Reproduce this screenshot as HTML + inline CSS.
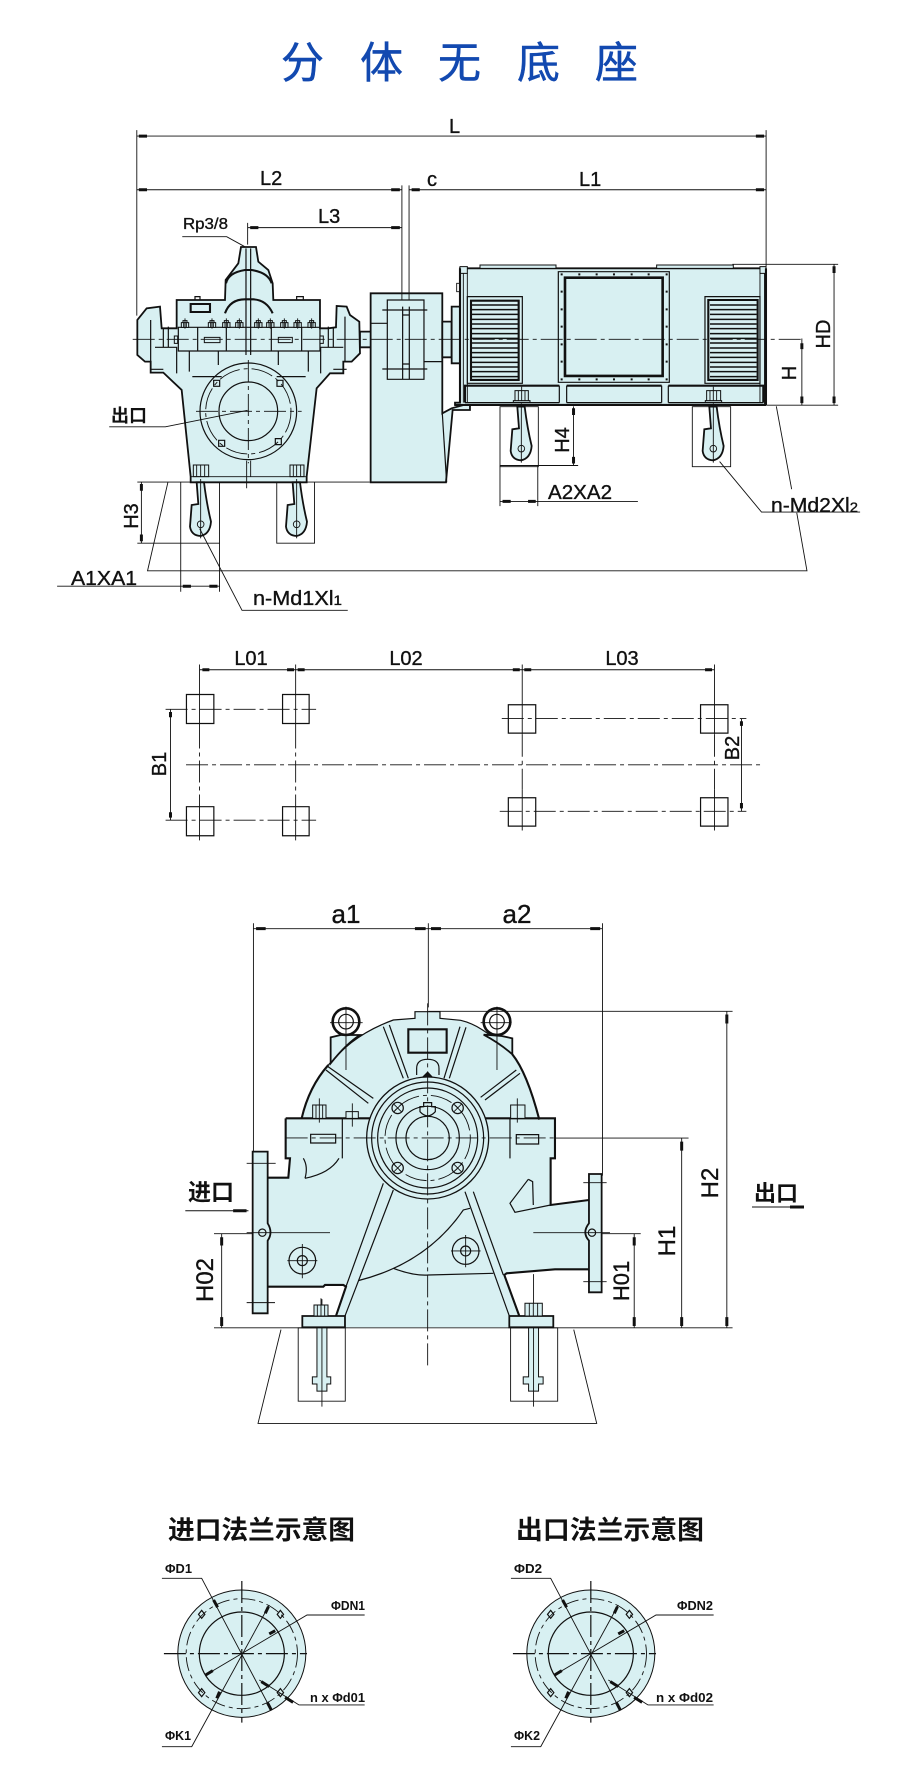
<!DOCTYPE html>
<html><head><meta charset="utf-8"><style>
html,body{margin:0;padding:0;background:#fff}
svg{display:block}
svg *{vector-effect:non-scaling-stroke}
.t{fill:none;stroke:#111;stroke-width:.9}
.m{fill:none;stroke:#111;stroke-width:1.2}
.b{fill:none;stroke:#111;stroke-width:2.1}
.x{fill:none;stroke:#111;stroke-width:2.6}
.f{fill:#d8f0f2;stroke:none}
.fb{fill:#d8f0f2;stroke:#111;stroke-width:1.8}
.fm{fill:#d8f0f2;stroke:#111;stroke-width:1}
.c{fill:none;stroke:#111;stroke-width:.9;stroke-dasharray:22 4 4 4}
.a{fill:none;stroke:#111;stroke-width:3}
text{font-family:"Liberation Sans","Noto Sans CJK SC",sans-serif;fill:#111;stroke:#111;stroke-width:.35}
.l{font-size:20px}
.cjk{font-family:"Noto Sans CJK SC","Liberation Sans",sans-serif;font-weight:700;stroke-width:0}
.s{font-size:13px;font-weight:700;stroke-width:0}
.ti{fill:#1249b0;stroke:#1249b0;stroke-width:.5;font-family:"Noto Sans CJK SC",sans-serif;font-size:43px}
</style></head><body>
<svg xmlns="http://www.w3.org/2000/svg" width="921" height="1788" viewBox="0 0 921 1788">
<defs>
<g id="hook"><path class="fb" d="M-12,0L-7,65L-27,68L-32,133Q-28,160 0,161Q28,155 31,118Q18,65 10,0Z"/><circle class="t" cx="0" cy="126" r="10"/><path class="t" d="M0,-10V168"/></g>
<g id="nut"><path class="fm" d="M-11,0V-14H11V0ZM-6,-14V-20H6V-14Z"/><path class="t" d="M0,-27V4M-4,-14V0M4,-14V0"/></g>
</defs>
<rect width="921" height="1788" fill="#fff"/>
<text class="ti" x="281" y="78">分</text>
<text class="ti" x="360" y="78">体</text>
<text class="ti" x="438" y="78">无</text>
<text class="ti" x="517" y="78">底</text>
<text class="ti" x="595" y="78">座</text>

<!-- pump -->
<g transform="translate(130,250) scale(.3333)">
<path class="fb" d="M333,-9L378,-9L385,35L415,60L428,100L430,150L570,150L570,235L595,235L618,232L620,168L650,170L660,195L688,215L690,310L665,335L640,335L640,370L600,370L560,415L530,680L530,697L182,697L182,680L155,420L100,368L62,368L62,335L45,335L22,315L22,210L50,175L90,170L95,235L140,235L140,150L285,150L287,90L325,40Z"/>
<path class="m" d="M62,210V335M645,200V335M100,235V292M610,235V292M115,230V292M595,230V292"/>
<path class="m" d="M145,232H570V303H145Z M203,232V303M289,232V303M424,232V303M515,232V303"/>
<path class="fm" d="M223,262H270V278H223ZM445,262H487V278H445ZM133,258H143V280H133ZM570,258H580V280H570Z"/>
<rect class="b" x="182" y="162" width="58" height="24"/>
<path class="m" d="M75,292H140V370M640,292H572V370M178,303V365M265,303V345M445,303V345M535,303V365M187,380H275M440,380H527M60,358H100M610,358H650"/>
<path class="b" d="M288,100Q295,68 345,60H365Q415,68 425,100M285,190Q300,148 345,148H370Q410,150 428,190"/>
<path class="m" d="M348,-5V315M362,-5V315"/>
<use href="#nut" x="165" y="232"/><use href="#nut" x="246" y="232"/><use href="#nut" x="289" y="232"/><use href="#nut" x="328" y="232"/><use href="#nut" x="385" y="232"/><use href="#nut" x="421" y="232"/><use href="#nut" x="463" y="232"/><use href="#nut" x="503" y="232"/><use href="#nut" x="545" y="232"/>
<path class="m" d="M195,150V140H210V150M500,150V140H520V150"/>
<circle class="m" cx="355" cy="484" r="145"/><circle class="c" cx="355" cy="484" r="128"/><circle class="m" cx="355" cy="484" r="88"/>
<path class="c" d="M198,484H515M355,330V640"/>
<path class="t" d="M350,632V715M362,632V680"/>
<rect class="m" x="251" y="391" width="18" height="18"/><rect class="m" x="441" y="391" width="18" height="18"/><rect class="m" x="266" y="571" width="18" height="18"/><rect class="m" x="436" y="566" width="18" height="18"/>
<path class="fm" d="M190,645H236V680H190ZM480,645H522V680H480Z"/><path class="t" d="M200,645V680M212,645V680M224,645V680M490,645V680M500,645V680M512,645V680M183,680H528"/>
<use href="#hook" x="212" y="697"/><use href="#hook" x="500" y="697"/>
<!-- shaft & coupling -->
<rect class="fb" x="690" y="245" width="34" height="47"/>
<path class="fb" d="M722,130H937V490L965,475L1020,460V480L985,480L968,480L948,697H722Z"/>
<path class="m" d="M937,490L950,697"/>
<rect class="m" x="772" y="150" width="110" height="238"/>
<path class="m" d="M757,180H892M757,357H892M722,220H772M882,335H937M818,170V388M838,170V388M818,195H838M818,342H838"/>
<rect class="fb" x="937" y="215" width="28" height="107"/>
</g>

<!-- motor -->
<g transform="translate(450,250) scale(.3333)">
<rect class="fb" x="5" y="170" width="25" height="170"/>
<path class="fb" d="M30,55H945V465H15V458H30Z"/>
<path class="fm" d="M90,45H318V55H90ZM620,45H850V55H620ZM30,50H52V70H30ZM930,50H948V70H930Z"/>
<path class="t" d="M40,70V458M52,70V458M930,70V458M20,100H30V125H20ZM15,340H30"/>
<path class="b" d="M30,55V458M948,55V465M15,465H948"/>
<rect class="m" x="325" y="65" width="333" height="332"/>
<rect class="x" x="345" y="83" width="293" height="295"/>
<path fill="#111" d="M332,70h6v6h-6zM385,70h6v6h-6zM437,70h6v6h-6zM489,70h6v6h-6zM542,70h6v6h-6zM593,70h6v6h-6zM647,70h6v6h-6zM332,385h6v6h-6zM385,385h6v6h-6zM437,385h6v6h-6zM489,385h6v6h-6zM542,385h6v6h-6zM593,385h6v6h-6zM647,385h6v6h-6zM332,122h6v6h-6zM332,175h6v6h-6zM332,227h6v6h-6zM332,280h6v6h-6zM332,332h6v6h-6zM647,122h6v6h-6zM647,175h6v6h-6zM647,227h6v6h-6zM647,280h6v6h-6zM647,332h6v6h-6z"/>
<rect class="m" x="52" y="140" width="165" height="260"/>
<rect class="b" x="63" y="152" width="143" height="238"/>
<rect class="m" x="765" y="140" width="165" height="260"/>
<rect class="b" x="775" y="150" width="148" height="240"/>
<path class="m" style="stroke-width:1.5" d="M66,165H204M66,179H204M66,193H204M66,208H204M66,222H204M66,236H204M66,251H204M66,265H204M66,279H204M66,294H204M66,308H204M66,322H204M66,337H204M66,351H204M66,365H204M66,380H204M780,165H920M780,179H920M780,193H920M780,208H920M780,222H920M780,236H920M780,251H920M780,265H920M780,279H920M780,294H920M780,308H920M780,322H920M780,337H920M780,351H920M780,365H920M780,380H920"/>
<path class="b" d="M45,458V407H328M350,407H635M655,407H940V458"/>
<path class="m" d="M328,407V458M350,407V458M635,407V458M655,407V458M45,458H328M350,458H635M655,458H940"/>
<path class="fm" d="M195,422H235V452H195ZM190,452H240V457H190ZM770,422H812V452H770ZM766,452H815V457H766Z"/>
<path class="t" d="M205,422V452M215,410V452M225,422V452M780,422V452M790,410V452M800,422V452"/>
<rect class="t" x="150" y="470" width="115" height="180"/><rect class="t" x="727" y="470" width="115" height="180"/>
<use href="#hook" x="214" y="470"/><use href="#hook" x="790" y="470"/>
</g>

<!-- dims top -->
<g transform="translate(99,0) scale(.5108,.3945)">
<path class="t" d="M74,330V800M1306,330V690M74,345H1306M74,481H593M607,481H1306M593,470V760M607,470V760M291,565V620M291,577H593M163,600H250L285,625"/>
<path class="a" d="M78,345H94M1286,345H1302M78,481H94M572,481H589M612,481H628M1286,481H1302M296,577H312M572,577H589"/>
<path class="c" d="M66,860H1378"/>
<path class="t" d="M1376,858V1027M1439,670V1027M1240,670H1447M1306,1027H1447"/>
<path class="a" d="M1376,870V885M1376,1005V1022M1439,675V692M1439,1005V1022M929,1035V1052M929,1158V1175"/>
<path class="t" d="M929,1030V1180M785,1180H938M785,1180V1283M859,1180V1283M785,1271H1055"/>
<path class="a" d="M790,1271H806M840,1271H855"/>
<path class="t" d="M1326,1030L1356,1240M1366,1300L1386,1447H95L135,1222M1215,1170L1297,1298H1490"/>
<path class="t" d="M75,1222H190M305,1222H530M83,1222V1377M75,1377H236M160,1222V1500M236,1222V1500M348,1222V1377H422V1222M-82,1486H236M197,1340L280,1547H487"/>
<path class="a" d="M83,1227V1244M83,1355V1372M164,1486H180M216,1486H232"/>
<path class="t" d="M20,1082H130L291,1040"/>
</g>
<text class="l" x="449" y="133">L</text>
<text class="l" x="260" y="185">L2</text>
<text class="l" x="427" y="186">c</text>
<text class="l" x="579" y="186">L1</text>
<text class="l" x="318" y="223">L3</text>
<text x="183" y="229" font-size="16" textLength="45" lengthAdjust="spacingAndGlyphs">Rp3/8</text>
<text class="l" text-anchor="middle" transform="translate(796,373) rotate(-90)">H</text>
<text class="l" text-anchor="middle" transform="translate(830,334) rotate(-90)">HD</text>
<text class="l" text-anchor="middle" transform="translate(569,440) rotate(-90)">H4</text>
<text class="l" text-anchor="middle" transform="translate(138,516) rotate(-90)">H3</text>
<text x="548" y="499" font-size="20" textLength="64" lengthAdjust="spacingAndGlyphs">A2XA2</text>
<text x="771" y="512" font-size="20" textLength="87" lengthAdjust="spacingAndGlyphs">n-Md2Xl<tspan font-size="14">2</tspan></text>
<text x="253" y="605" font-size="20" textLength="89" lengthAdjust="spacingAndGlyphs">n-Md1Xl<tspan font-size="14">1</tspan></text>
<text x="71" y="585" font-size="20" textLength="66" lengthAdjust="spacingAndGlyphs">A1XA1</text>
<text class="cjk" x="111" y="422" font-size="18">出口</text>

<!-- plan -->
<g transform="translate(139,640.7) scale(.409,.33)">
<path class="m" d="M116,163h67v88h-67zM351,163h65v88h-65zM116,503h67v88h-67zM351,503h65v88h-65zM903,194h67v86h-67zM1373,194h67v86h-67zM903,476h67v86h-67zM1373,476h67v86h-67z"/>
<path class="t" d="M148,72V260M383,72V260M937,72V285M1407,72V285M148,475V605M383,475V605M937,450V575M1407,450V575M148,88H1407M77,208V544M1473,236V517"/>
<path class="c" d="M65,208H433M65,544H433M887,236H1485M882,517H1485M115,376H1520M148,260V475M383,260V475M937,285V450M1407,285V450"/>
<path class="a" d="M155,88H172M362,88H379M388,88H405M914,88H931M942,88H959M1384,88H1401M77,216V232M77,520V536M1473,244V258M1473,492V508"/>
</g>
<text class="l" x="251" y="665" text-anchor="middle">L01</text>
<text class="l" x="406" y="665" text-anchor="middle">L02</text>
<text class="l" x="622" y="665" text-anchor="middle">L03</text>
<text class="l" text-anchor="middle" transform="translate(166,764) rotate(-90)">B1</text>
<text class="l" text-anchor="middle" transform="translate(739,748) rotate(-90)">B2</text>

<!-- side view dims -->
<g transform="translate(170,900) scale(.3827,.358)">
<path class="t" d="M218,65V705M1130,65V770M218,80H1130M675,65V300M675,311H1470M1455,311V1195M1337,665V1195M1005,665H1355M1213,932V1195M950,932H1230M135,932V1195M115,932H417M115,1195H1470M40,868H205"/>
<path class="a" d="M225,80H250M640,80H668M682,80H708M1098,80H1124M1455,320V345M1455,1165V1190M1337,675V700M1337,1165V1190M1213,942V965M1213,1165V1190M135,942V965M135,1165V1190M165,868H200"/>
<rect class="t" x="335" y="1195" width="123" height="205"/><rect class="t" x="890" y="1195" width="123" height="205"/>
<path class="fm" d="M384,1195H410V1332H420V1352H410V1372H384V1352H372V1332H384ZM937,1195H963V1332H975V1352H963V1372H937V1352H923V1332H937Z"/>
<path class="t" d="M397,1115V1415M950,1045V1415M290,1200L230,1462H1115L1055,1200"/>
</g>
<!-- side view body -->
<g transform="translate(240,1010) scale(.3333)">
<path class="f" d="M137,325L185,325C200,260 225,210 265,165C300,125 350,70 460,30L525,25L525,5L600,5L600,25L662,31C700,40 740,60 817,133C855,180 880,260 898,329L945,325L945,445L932,445L932,585L1047,570L1047,778L945,778L800,790L793,795L838,918L940,918L940,952L187,952L187,918L288,918L318,830L310,825L255,825L250,830L83,830L83,503L145,503L150,445L137,445Z"/>
<path class="b" d="M185,325C200,260 225,210 265,165"/>
<path class="m" d="M265,165C300,125 350,70 460,30L525,25L525,5L600,5L600,25L662,31C700,40 740,60 817,133"/>
<path class="b" d="M817,133C855,180 880,260 898,329"/>
<path class="b" d="M137,325H945V445H932V585L1047,570M137,325V445H150L145,503H83M1047,778H945L800,790L793,795L838,918M83,830H250L255,825H310L318,830L288,918"/>
<path class="fb" d="M272,160V82L302,75L360,75Q320,100 272,160ZM817,133V85L785,78L731,74Q780,100 817,133Z"/>
<circle class="x" cx="318" cy="35" r="40"/><circle class="m" cx="318" cy="35" r="22"/><circle class="x" cx="771" cy="35" r="40"/><circle class="m" cx="771" cy="35" r="22"/>
<path class="t" d="M318,-10V180M270,38H368M771,-10V180M722,38H815"/>
<path class="m" d="M258,180L385,280M264,170L400,265M430,50L490,205M448,45L505,205M660,50L612,205M678,52L628,205M829,180L722,262M840,190L735,270"/>
<rect class="b" x="505" y="58" width="115" height="70"/>
<path class="m" d="M530,195V175Q530,148 563,148Q597,148 597,175V195"/>
<path fill="#111" d="M545,202L563,184L580,202Z"/>
<!-- legs -->
<path class="m" d="M318,830L430,520M315,918L460,540M675,545L808,918M700,545L790,795"/>
<path class="m" d="M355,812Q560,760 670,600L690,595M460,775Q520,798 565,795L760,790"/>
<path class="m" d="M190,445Q205,470 195,505M297,445Q270,490 195,505"/>
<path class="m" d="M865,508L810,580L825,607L932,585M865,508L878,515L880,585"/>
<path class="m" d="M307,325V445M810,325V445"/>
<rect class="m" x="212" y="373" width="75" height="26"/><rect class="m" x="829" y="374" width="67" height="28"/>
<path class="fm" d="M218,285H258V325H218ZM318,305H355V325H318ZM812,285H855V325H812Z"/>
<path class="t" d="M238,265V338M337,280V350M832,265V338M228,285V325M248,285V325"/>
<circle class="fm" cx="563" cy="384" r="183" style="stroke-width:1.3"/><circle class="m" cx="563" cy="384" r="168"/><circle class="m" cx="563" cy="384" r="150"/><circle class="c" cx="563" cy="384" r="128"/><circle class="m" cx="563" cy="384" r="95"/><circle class="m" cx="563" cy="384" r="65"/>
<path class="c" d="M137,384H945"/>
<path class="c" d="M563,-20V1071"/>
<circle class="m" cx="473" cy="294" r="17"/><circle class="m" cx="653" cy="294" r="17"/><circle class="m" cx="473" cy="474" r="17"/><circle class="m" cx="653" cy="474" r="17"/>
<path class="t" d="M462,283L484,305M484,283L462,305M642,283L664,305M664,283L642,305M462,463L484,485M484,463L462,485M642,463L664,485M664,463L642,485"/>
<path class="m" d="M540,305Q563,330 586,305V290H575V278H551V290H540Z"/>
<!-- flanges -->
<path class="fb" d="M38,425H83V640Q100,668 83,692V910H38Z"/>
<path class="fb" d="M1047,492H1085V847H1047V692Q1025,668 1047,640Z"/>
<circle class="m" cx="67" cy="668" r="11"/><circle class="m" cx="1056" cy="668" r="11"/>
<path class="t" d="M20,668H270M880,668H1110M20,460H107M20,878H105M1030,518H1100M1030,815H1100"/>
<circle class="m" cx="187" cy="752" r="40"/><circle class="m" cx="187" cy="752" r="15"/><circle class="m" cx="677" cy="723" r="40"/><circle class="m" cx="677" cy="723" r="15"/>
<path class="t" d="M142,752H232M187,702V805M633,723H722M677,675V772"/>
<path class="fb" d="M187,918H315V952H187ZM808,918H940V952H808Z"/>
<path class="fm" d="M222,885H264V918H222ZM855,880H907V918H855Z"/>
<path class="t" d="M243,865V918M232,885V918M254,885V918M868,880V918M880,880V918M893,880V918"/>
</g>
<text font-size="26" x="346" y="923" text-anchor="middle">a1</text>
<text font-size="26" x="517" y="923" text-anchor="middle">a2</text>
<text font-size="24" text-anchor="middle" transform="translate(718,1183) rotate(-90)">H2</text>
<text font-size="24" text-anchor="middle" transform="translate(675,1241) rotate(-90)">H1</text>
<text font-size="22" text-anchor="middle" transform="translate(629,1281) rotate(-90)">H01</text>
<text font-size="24" text-anchor="middle" transform="translate(213,1280) rotate(-90)">H02</text>
<text class="cjk" x="188" y="1200" font-size="23">进口</text>
<text class="cjk" x="754" y="1201" font-size="22">出口</text>
<path class="t" d="M752,1207H803"/><path class="a" d="M790,1207H804"/>

<!-- flanges -->
<text class="cjk" x="168" y="1539" font-size="26" textLength="187" lengthAdjust="spacingAndGlyphs">进口法兰示意图</text>
<text class="cjk" x="516" y="1539" font-size="26" textLength="188" lengthAdjust="spacingAndGlyphs">出口法兰示意图</text>
<g transform="translate(150,1510) scale(.3975,.3333)">
<ellipse class="fm" cx="231" cy="431" rx="161" ry="191"/>
<ellipse class="c" cx="231" cy="431" rx="140" ry="165" style="stroke-dasharray:14 4 4 4"/>
<ellipse class="m" cx="231" cy="431" rx="107" ry="125"/>
<path class="c" d="M35,431H395M231,213V638" style="stroke-width:1.2"/>
<path class="m" d="M122,313l8,-12l8,12l-8,12zM320,313l8,-12l8,12l-8,12zM122,548l8,-12l8,12l-8,12zM320,548l8,-12l8,12l-8,12z"/>
<path class="t" d="M30,205H130L305,600M30,710H105L300,285M140,495L395,315H540M375,585H540M375,585L275,510"/>
<path class="a" d="M160,270L170,292M305,600L295,577M140,495L158,482M300,372L315,362M175,545L168,565M298,290L290,310M280,515L300,530M340,562L360,577"/>
</g>
<g transform="translate(499,1510) scale(.3975,.3333)">
<ellipse class="fm" cx="231" cy="431" rx="161" ry="191"/>
<ellipse class="c" cx="231" cy="431" rx="140" ry="165" style="stroke-dasharray:14 4 4 4"/>
<ellipse class="m" cx="231" cy="431" rx="107" ry="125"/>
<path class="c" d="M35,431H395M231,213V638" style="stroke-width:1.2"/>
<path class="m" d="M122,313l8,-12l8,12l-8,12zM320,313l8,-12l8,12l-8,12zM122,548l8,-12l8,12l-8,12zM320,548l8,-12l8,12l-8,12z"/>
<path class="t" d="M30,205H130L305,600M30,710H105L300,285M140,495L395,315H540M375,585H540M375,585L275,510"/>
<path class="a" d="M160,270L170,292M305,600L295,577M140,495L158,482M300,372L315,362M175,545L168,565M298,290L290,310M280,515L300,530M340,562L360,577"/>
</g>
<text class="s" x="165" y="1573" textLength="27" lengthAdjust="spacingAndGlyphs">ΦD1</text>
<text class="s" x="331" y="1610" textLength="34" lengthAdjust="spacingAndGlyphs">ΦDN1</text>
<text class="s" x="310" y="1702" textLength="55" lengthAdjust="spacingAndGlyphs">n x Φd01</text>
<text class="s" x="165" y="1740" textLength="26" lengthAdjust="spacingAndGlyphs">ΦK1</text>
<text class="s" x="514" y="1573" textLength="28" lengthAdjust="spacingAndGlyphs">ΦD2</text>
<text class="s" x="677" y="1610" textLength="36" lengthAdjust="spacingAndGlyphs">ΦDN2</text>
<text class="s" x="656" y="1702" textLength="57" lengthAdjust="spacingAndGlyphs">n x Φd02</text>
<text class="s" x="514" y="1740" textLength="26" lengthAdjust="spacingAndGlyphs">ΦK2</text>
</svg>
</body></html>
